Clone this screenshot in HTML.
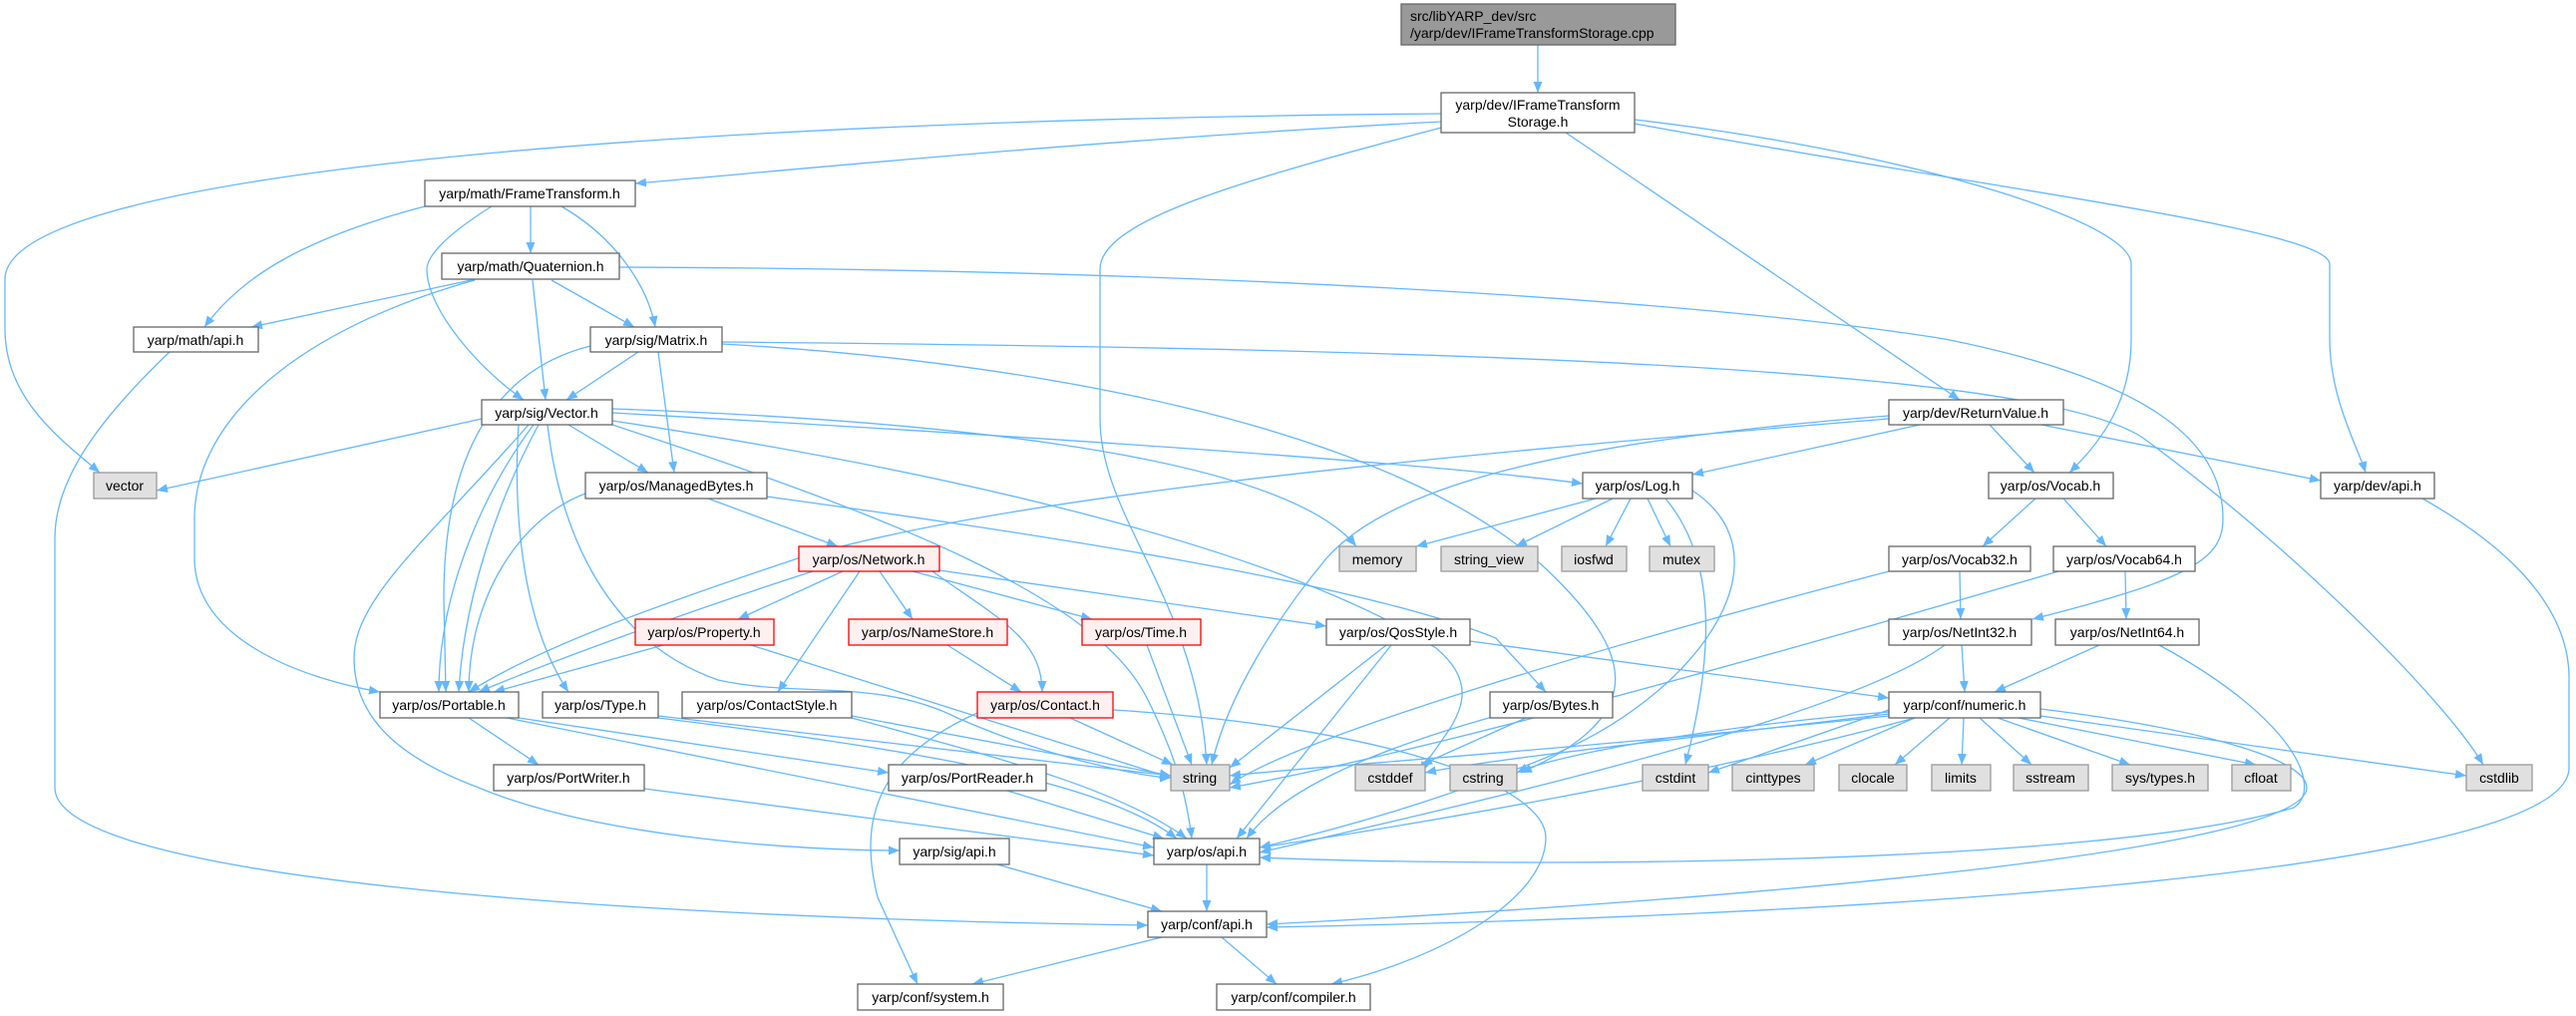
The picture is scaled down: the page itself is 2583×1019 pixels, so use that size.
<!DOCTYPE html>
<html><head><meta charset="utf-8"><style>
html,body{margin:0;padding:0;background:#fff;}
svg{display:block;}
text{font-family:"Liberation Sans",sans-serif;font-size:14px;fill:#000;text-anchor:middle;}
.n{fill:#fff;stroke:#666;stroke-width:1.3;}
.x{fill:#e0e0e0;stroke:#999;stroke-width:1.3;}
.r{fill:#fff0f0;stroke:#ff0000;stroke-width:1.3;}
.e{fill:none;stroke:#63b8ff;stroke-width:1.3;marker-end:url(#a);}
</style></head><body>
<svg width="2583" height="1019" viewBox="0 0 2583 1019" xmlns="http://www.w3.org/2000/svg">
<defs><marker id="a" markerUnits="userSpaceOnUse" markerWidth="12" markerHeight="9" refX="11" refY="4.5" orient="auto"><path d="M0,0 L11,4.5 L0,9 z" fill="#63b8ff"/></marker></defs>
<g>
<path class="e" d="M1542,45 L1542,93"/>
<path class="e" d="M1445,114 C700,120 5,170 5,280 L5,330 C5,400 60,440 100,474"/>
<path class="e" d="M1445,122 C1100,140 800,170 637,184"/>
<path class="e" d="M1445,128 C1250,180 1103,220 1103,270 L1103,420 C1103,520 1200,600 1210,767"/>
<path class="e" d="M1570,133 L1965,401"/>
<path class="e" d="M1639,120 C1900,150 2137,220 2137,265 L2137,340 C2137,400 2110,440 2075,474"/>
<path class="e" d="M1639,124 C2000,190 2336,230 2336,265 L2336,340 C2336,400 2365,450 2372,474"/>
<path class="e" d="M426,207 C300,240 240,280 205,328"/>
<path class="e" d="M493,207 C440,240 428,260 428,270 C428,310 480,370 525,401"/>
<path class="e" d="M532,207 L532,254"/>
<path class="e" d="M563,207 C620,240 650,290 657,328"/>
<path class="e" d="M477,280 L252,328"/>
<path class="e" d="M476,281 C300,330 195,420 195,520 L195,560 C195,640 300,680 381,694"/>
<path class="e" d="M534,281 L547,401"/>
<path class="e" d="M553,281 L636,328"/>
<path class="e" d="M621,268 C1200,270 1700,300 1950,340 C2150,380 2229,440 2229,520 C2229,560 2200,580 2038,621"/>
<path class="e" d="M640,353 L568,401"/>
<path class="e" d="M660,353 L676,474"/>
<path class="e" d="M592,347 C500,370 445,450 445,600 L447,694"/>
<path class="e" d="M724,345 C1000,360 1400,420 1560,580 C1640,660 1650,720 1525,775"/>
<path class="e" d="M724,343 C1500,350 2050,370 2150,440 C2300,550 2450,700 2490,767"/>
<path class="e" d="M483,420 L157,492"/>
<path class="e" d="M570,426 L650,474"/>
<path class="e" d="M535,426 C480,500 440,600 440,694"/>
<path class="e" d="M540,426 C500,500 465,600 460,694"/>
<path class="e" d="M520,426 C515,500 520,620 570,694"/>
<path class="e" d="M530,426 C430,540 355,600 355,660 C355,720 400,760 480,790 C600,840 800,853 902,853"/>
<path class="e" d="M549,426 C560,520 600,640 720,682 C800,700 880,680 960,720 C1050,760 1150,780 1174,780"/>
<path class="e" d="M614,410 C900,420 1280,450 1360,548"/>
<path class="e" d="M614,414 C900,430 1400,460 1587,485"/>
<path class="e" d="M614,422 C1000,480 1300,560 1440,650 C1500,700 1440,740 1425,775"/>
<path class="e" d="M614,426 C900,520 1100,600 1150,700 C1180,760 1190,800 1195,841"/>
<path class="e" d="M587,495 C520,520 470,600 470,694"/>
<path class="e" d="M710,500 L840,548"/>
<path class="e" d="M769,498 C1000,530 1350,580 1500,640 L1550,694"/>
<path class="e" d="M815,573 C700,610 560,660 480,694"/>
<path class="e" d="M845,573 L740,621"/>
<path class="e" d="M862,573 L780,694"/>
<path class="e" d="M882,573 L915,621"/>
<path class="e" d="M915,573 L1095,621"/>
<path class="e" d="M935,573 C1000,620 1045,640 1045,694"/>
<path class="e" d="M942,572 L1330,628"/>
<path class="e" d="M665,647 L495,694"/>
<path class="e" d="M753,647 L1174,780"/>
<path class="e" d="M470,720 L540,767"/>
<path class="e" d="M520,720 L891,775"/>
<path class="e" d="M508,720 L1157,850"/>
<path class="e" d="M660,718 L1174,778"/>
<path class="e" d="M660,720 C900,750 1100,780 1180,841"/>
<path class="e" d="M854,718 L1174,778"/>
<path class="e" d="M854,720 C1000,760 1120,790 1190,841"/>
<path class="e" d="M646,791 L1157,858"/>
<path class="e" d="M1010,793 L1167,841"/>
<path class="e" d="M950,647 L1024,694"/>
<path class="e" d="M1150,647 L1195,767"/>
<path class="e" d="M1073,720 L1176,767"/>
<path class="e" d="M980,715 C880,760 860,820 880,900 L920,987"/>
<path class="e" d="M1116,712 C1400,730 1550,790 1550,840 C1550,900 1450,960 1335,987"/>
<path class="e" d="M1390,647 L1233,770"/>
<path class="e" d="M1395,647 L1240,841"/>
<path class="e" d="M1474,643 L1894,700"/>
<path class="e" d="M1530,720 L1425,767"/>
<path class="e" d="M1500,718 C1350,760 1280,800 1250,841"/>
<path class="e" d="M1600,500 L1420,548"/>
<path class="e" d="M1617,500 L1520,548"/>
<path class="e" d="M1635,500 L1610,548"/>
<path class="e" d="M1652,500 L1675,548"/>
<path class="e" d="M1670,500 C1720,560 1720,650 1690,767"/>
<path class="e" d="M1697,492 C1800,560 1700,700 1550,760 C1450,800 1350,830 1263,850"/>
<path class="e" d="M1894,417 C1600,440 1400,480 1330,560 C1280,620 1230,700 1215,767"/>
<path class="e" d="M1925,426 L1697,476"/>
<path class="e" d="M1995,426 L2040,474"/>
<path class="e" d="M2047,426 L2327,482"/>
<path class="e" d="M1894,420 C1400,460 1000,500 800,560 C650,610 540,650 470,694"/>
<path class="e" d="M2041,500 L1988,548"/>
<path class="e" d="M2069,500 L2112,548"/>
<path class="e" d="M1965,573 L1966,621"/>
<path class="e" d="M1894,573 C1600,650 1300,740 1233,787"/>
<path class="e" d="M2131,573 L2132,621"/>
<path class="e" d="M2064,573 C1700,680 1400,760 1233,790"/>
<path class="e" d="M1967,647 L1970,694"/>
<path class="e" d="M1950,647 C1850,720 1500,800 1263,855"/>
<path class="e" d="M2105,647 L2000,694"/>
<path class="e" d="M2165,647 C2300,720 2330,790 2300,810 C2100,870 1500,870 1263,860"/>
<path class="e" d="M1920,720 L1810,767"/>
<path class="e" d="M1955,720 L1900,767"/>
<path class="e" d="M1969,720 L1967,767"/>
<path class="e" d="M1985,720 L2037,767"/>
<path class="e" d="M2003,720 L2136,767"/>
<path class="e" d="M2024,720 L2262,767"/>
<path class="e" d="M2046,718 L2473,778"/>
<path class="e" d="M1894,712 L1713,775"/>
<path class="e" d="M1894,714 C1700,730 1550,760 1521,775"/>
<path class="e" d="M1894,716 C1700,740 1500,760 1429,775"/>
<path class="e" d="M1894,718 C1600,750 1300,770 1233,778"/>
<path class="e" d="M1920,720 C1700,780 1400,830 1263,850"/>
<path class="e" d="M2046,711 C2200,730 2313,760 2313,790 C2313,850 1800,900 1270,927"/>
<path class="e" d="M2429,500 C2500,540 2576,600 2576,680 L2576,770 C2576,880 1800,920 1270,930"/>
<path class="e" d="M170,353 C100,420 55,480 55,540 L55,790 C55,880 600,920 1151,928"/>
<path class="e" d="M1000,867 L1165,914"/>
<path class="e" d="M1210,867 L1210,914"/>
<path class="e" d="M1165,940 L975,987"/>
<path class="e" d="M1225,940 L1280,987"/>
</g>
<g>
<rect x="1405" y="4" width="275" height="41" fill="#999" stroke="#666" stroke-width="1.3"/>
<text x="1414" y="21" style="text-anchor:start">src/libYARP_dev/src</text>
<text x="1414" y="38" style="text-anchor:start">/yarp/dev/IFrameTransformStorage.cpp</text>
<rect class="n" x="1445" y="93" width="194" height="40"/>
<text x="1542" y="110">yarp/dev/IFrameTransform</text><text x="1542" y="127">Storage.h</text>
<rect class="n" x="426" y="181" width="211" height="26"/><text x="531" y="199">yarp/math/FrameTransform.h</text>
<rect class="n" x="443" y="254" width="178" height="26"/><text x="532" y="272">yarp/math/Quaternion.h</text>
<rect class="n" x="134" y="328" width="125" height="25"/><text x="196" y="346">yarp/math/api.h</text>
<rect class="n" x="592" y="328" width="132" height="25"/><text x="658" y="346">yarp/sig/Matrix.h</text>
<rect class="n" x="483" y="401" width="131" height="25"/><text x="548" y="419">yarp/sig/Vector.h</text>
<rect class="x" x="94" y="474" width="63" height="26"/><text x="125" y="492">vector</text>
<rect class="n" x="587" y="474" width="182" height="26"/><text x="678" y="492">yarp/os/ManagedBytes.h</text>
<rect class="n" x="1587" y="474" width="110" height="26"/><text x="1642" y="492">yarp/os/Log.h</text>
<rect class="n" x="1894" y="401" width="175" height="25"/><text x="1981" y="419">yarp/dev/ReturnValue.h</text>
<rect class="n" x="1994" y="474" width="125" height="26"/><text x="2056" y="492">yarp/os/Vocab.h</text>
<rect class="n" x="2327" y="474" width="114" height="26"/><text x="2384" y="492">yarp/dev/api.h</text>
<rect class="r" x="801" y="548" width="141" height="25"/><text x="871" y="566">yarp/os/Network.h</text>
<rect class="x" x="1343" y="548" width="77" height="25"/><text x="1381" y="566">memory</text>
<rect class="x" x="1445" y="548" width="97" height="25"/><text x="1493" y="566">string_view</text>
<rect class="x" x="1566" y="548" width="65" height="25"/><text x="1598" y="566">iosfwd</text>
<rect class="x" x="1654" y="548" width="65" height="25"/><text x="1686" y="566">mutex</text>
<rect class="n" x="1894" y="548" width="142" height="25"/><text x="1965" y="566">yarp/os/Vocab32.h</text>
<rect class="n" x="2059" y="548" width="142" height="25"/><text x="2130" y="566">yarp/os/Vocab64.h</text>
<rect class="r" x="637" y="621" width="139" height="26"/><text x="706" y="639">yarp/os/Property.h</text>
<rect class="r" x="851" y="621" width="159" height="26"/><text x="930" y="639">yarp/os/NameStore.h</text>
<rect class="r" x="1085" y="621" width="119" height="26"/><text x="1144" y="639">yarp/os/Time.h</text>
<rect class="n" x="1330" y="621" width="144" height="26"/><text x="1402" y="639">yarp/os/QosStyle.h</text>
<rect class="n" x="1894" y="621" width="143" height="26"/><text x="1965" y="639">yarp/os/NetInt32.h</text>
<rect class="n" x="2061" y="621" width="144" height="26"/><text x="2133" y="639">yarp/os/NetInt64.h</text>
<rect class="n" x="381" y="694" width="139" height="26"/><text x="450" y="712">yarp/os/Portable.h</text>
<rect class="n" x="544" y="694" width="116" height="26"/><text x="602" y="712">yarp/os/Type.h</text>
<rect class="n" x="684" y="694" width="170" height="26"/><text x="769" y="712">yarp/os/ContactStyle.h</text>
<rect class="r" x="980" y="694" width="136" height="26"/><text x="1048" y="712">yarp/os/Contact.h</text>
<rect class="n" x="1494" y="694" width="123" height="26"/><text x="1555" y="712">yarp/os/Bytes.h</text>
<rect class="n" x="1894" y="694" width="152" height="26"/><text x="1970" y="712">yarp/conf/numeric.h</text>
<rect class="n" x="495" y="767" width="151" height="26"/><text x="570" y="785">yarp/os/PortWriter.h</text>
<rect class="n" x="891" y="767" width="158" height="26"/><text x="970" y="785">yarp/os/PortReader.h</text>
<rect class="x" x="1174" y="767" width="59" height="26"/><text x="1203" y="785">string</text>
<rect class="x" x="1359" y="767" width="70" height="26"/><text x="1394" y="785">cstddef</text>
<rect class="x" x="1454" y="767" width="67" height="26"/><text x="1487" y="785">cstring</text>
<rect class="x" x="1647" y="767" width="66" height="26"/><text x="1680" y="785">cstdint</text>
<rect class="x" x="1737" y="767" width="82" height="26"/><text x="1778" y="785">cinttypes</text>
<rect class="x" x="1844" y="767" width="68" height="26"/><text x="1878" y="785">clocale</text>
<rect class="x" x="1937" y="767" width="59" height="26"/><text x="1966" y="785">limits</text>
<rect class="x" x="2019" y="767" width="75" height="26"/><text x="2056" y="785">sstream</text>
<rect class="x" x="2118" y="767" width="96" height="26"/><text x="2166" y="785">sys/types.h</text>
<rect class="x" x="2238" y="767" width="59" height="26"/><text x="2267" y="785">cfloat</text>
<rect class="x" x="2473" y="767" width="66" height="26"/><text x="2506" y="785">cstdlib</text>
<rect class="n" x="902" y="841" width="110" height="26"/><text x="957" y="859">yarp/sig/api.h</text>
<rect class="n" x="1157" y="841" width="106" height="26"/><text x="1210" y="859">yarp/os/api.h</text>
<rect class="n" x="1151" y="914" width="119" height="26"/><text x="1210" y="932">yarp/conf/api.h</text>
<rect class="n" x="860" y="987" width="146" height="26"/><text x="933" y="1005">yarp/conf/system.h</text>
<rect class="n" x="1220" y="987" width="154" height="26"/><text x="1297" y="1005">yarp/conf/compiler.h</text>
</g>
</svg>
</body></html>
